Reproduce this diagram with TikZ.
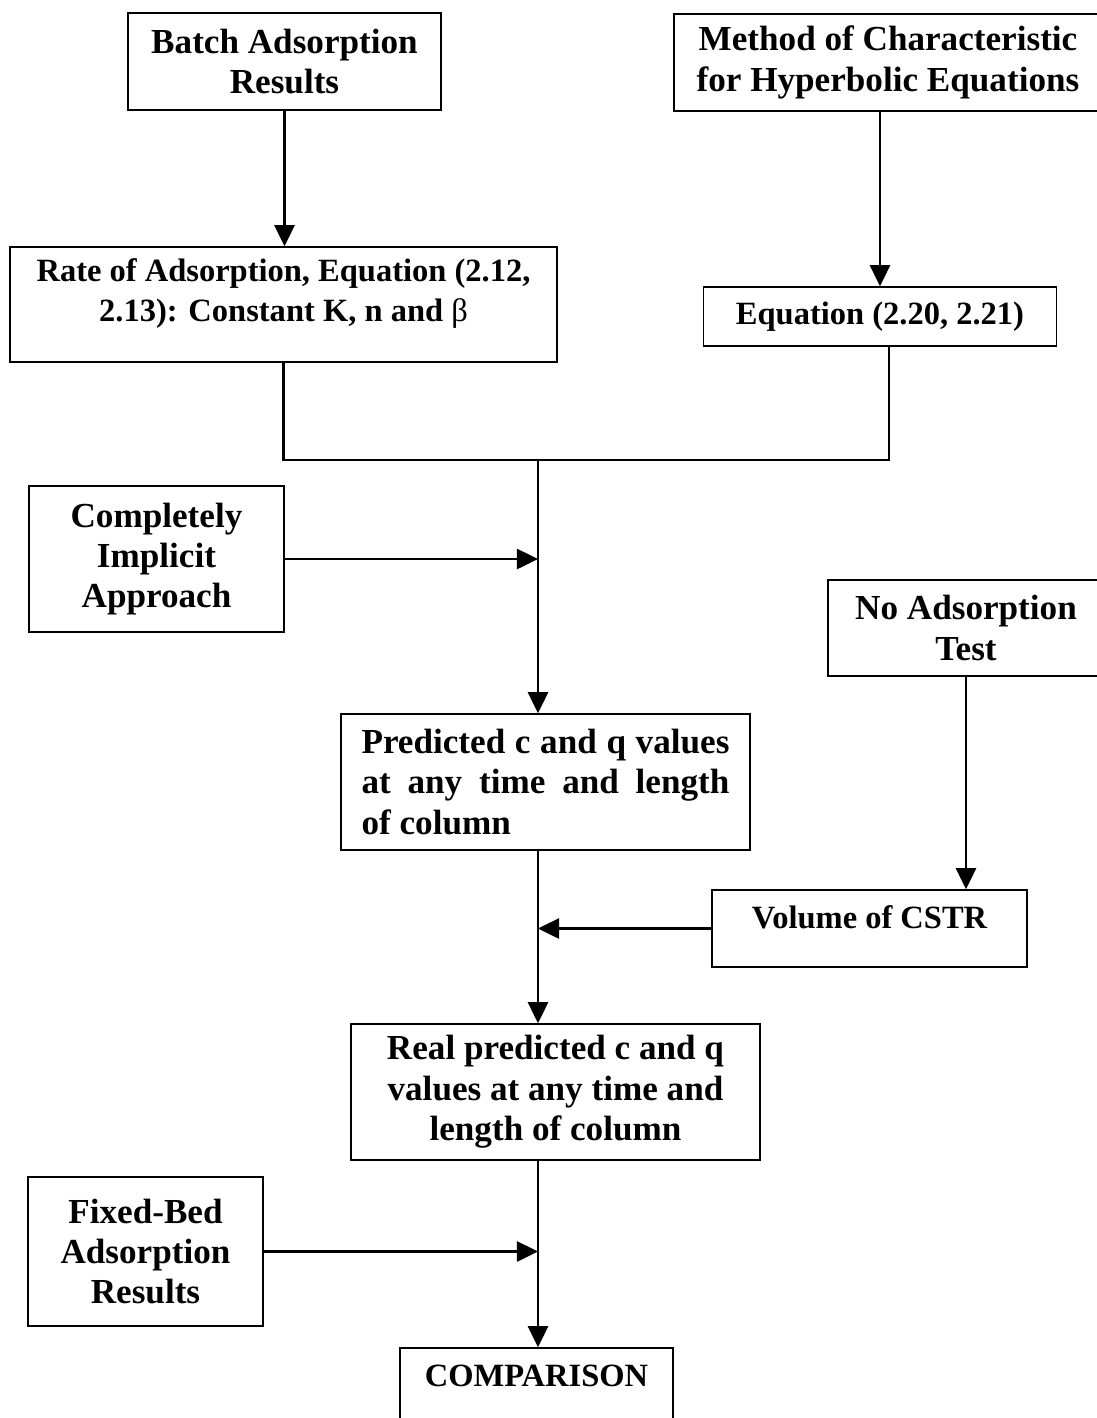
\documentclass[tikz,border=0pt]{standalone}
\usepackage{fontspec}
\setmainfont{Liberation Serif}
\usetikzlibrary{arrows.meta}

\begin{document}
\begin{tikzpicture}[
  x=0.02cm, y=-0.02cm,
  box/.style={draw, line width=0.9pt, align=center, inner sep=0pt, font=\fontsize{20}{23}\selectfont\bfseries},
  smallbox/.style={box, font=\fontsize{18.5}{22.7}\selectfont\bfseries},
  pointer/.style={draw, line width=1.2pt, -{Triangle[length=12pt, width=11.5pt]}},
  link/.style={draw, line width=1.2pt}
]
\useasboundingbox (0,0) rectangle (1097,1418);
\clip (0,0) rectangle (1097,1418);

% Nodes
\node[box, minimum width=6.26cm, minimum height=1.94cm] (batch) at (284.5,61.5) {Batch Adsorption\\Results};
\node[box, minimum width=8.56cm, minimum height=1.94cm] (moc) at (888,62.5) {Method of Characteristic\\for Hyperbolic Equations};
\node[smallbox, minimum width=10.94cm, minimum height=2.3cm, text depth=16.5pt] (rate) at (283.5,304.5) {Rate of Adsorption, Equation (2.12,\\2.13): Constant K, n and {\mdseries β}};
\node[smallbox, minimum width=7.06cm, minimum height=1.18cm] (eqn) at (880,316.5) {Equation (2.20, 2.21)};
\node[box, minimum width=5.1cm, minimum height=2.92cm] (implicit) at (156.5,559) {Completely\\Implicit\\Approach};
\node[box, minimum width=5.52cm, minimum height=1.92cm] (noads) at (966,628) {No Adsorption\\Test};
\node[box, minimum width=8.18cm, minimum height=2.72cm, text width=7.36cm, align=justify] (pred) at (545.5,782)
  {Predicted c and q values\linebreak at any time and length\linebreak of column};
\node[smallbox, minimum width=6.3cm, minimum height=1.54cm, text depth=12.5pt] (cstr) at (869.5,928.5) {Volume of CSTR};
\node[box, minimum width=8.18cm, minimum height=2.72cm] (real) at (555.5,1092) {Real predicted c and q\\values at any time and\\length of column};
\node[box, minimum width=4.7cm, minimum height=2.98cm] (fixed) at (145.5,1251.5) {Fixed-Bed\\Adsorption\\Results};
\node[smallbox, minimum width=5.46cm, minimum height=1.54cm, text depth=12.5pt] (comp) at (536.5,1386.5) {COMPARISON};

% Main line
\coordinate (join) at (538,460);

% Arrows
\draw[pointer] (batch.south) -- (batch.south |- rate.north);
\draw[pointer] (moc.south -| eqn.north) -- (eqn.north);
\draw[link] (rate.south) |- (join) -| ([xshift=0.18cm]eqn.south);
\draw[pointer] (join) -- (join |- pred.north);
\draw[pointer] (implicit) -- (implicit -| join);
\draw[pointer] (noads.south) -- (noads.south |- cstr.north);
\draw[pointer] (pred.south -| join) -- (real.north -| join);
\draw[pointer] (cstr) -- (cstr -| join);
\draw[pointer] (real.south -| join) -- (comp.north -| join);
\draw[pointer] (fixed) -- (fixed -| join);

\end{tikzpicture}
\end{document}
